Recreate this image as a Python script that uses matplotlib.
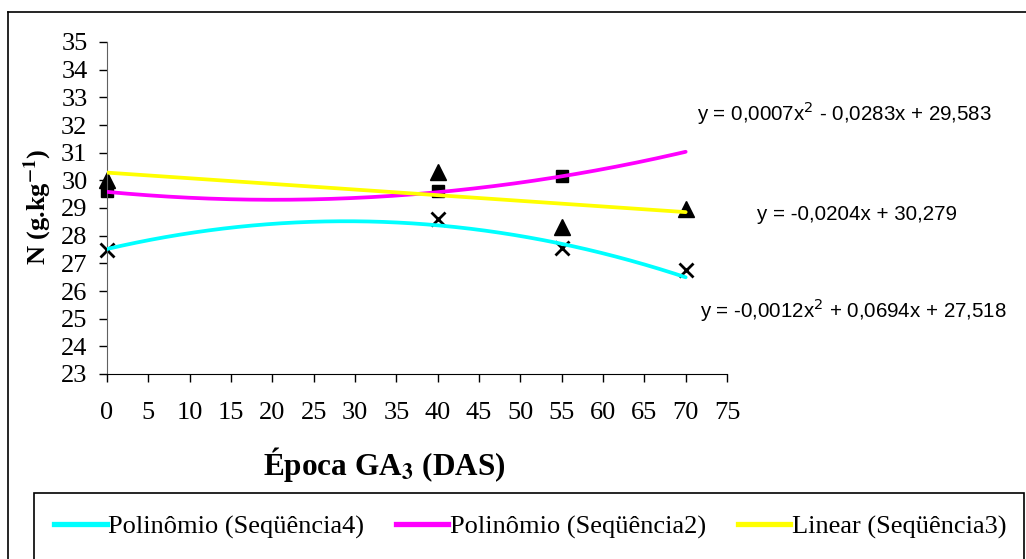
import numpy as np
import matplotlib
matplotlib.use("Agg")
import matplotlib.pyplot as plt
from matplotlib.lines import Line2D
from matplotlib.patches import Rectangle

# sampling days (DAS) and nitrogen content per sequence
days = [0, 40, 55, 70]
seq2_days = [0, 40, 55]
seq2_n = [29.6, 29.6, 30.15]
seq3_n = [30.0, 30.3, 28.3, 28.95]
seq4_n = [27.5, 28.6, 27.55, 26.75]

# trend line coefficients (highest power first)
coef_seq4 = [-0.0012, 0.0694, 27.518]
coef_seq2 = [0.0007, -0.0283, 29.583]
coef_seq3 = [-0.0204, 30.279]

eq_seq2 = "y = 0,0007x$^2$ - 0,0283x + 29,583"
eq_seq3 = "y = -0,0204x + 30,279"
eq_seq4 = "y = -0,0012x$^2$ + 0,0694x + 27,518"

legend_labels = ["Polinômio (Seqüência4)", "Polinômio (Seqüência2)", "Linear (Seqüência3)"]

plt.rcParams['font.family'] = 'Liberation Serif'

W, H = 1026, 559
fig = plt.figure(figsize=(W / 100, H / 100), dpi=100)
ax = fig.add_axes([107 / W, 1 - 374 / H, 620 / W, 332 / H])

# data markers (under the trend lines)
ax.plot(seq2_days, seq2_n, 's', color='black', ms=9, zorder=2, clip_on=False)
ax.plot(days, seq3_n, '^', color='black', ms=11, zorder=2, clip_on=False)
ax.plot(days, seq4_n, 'x', color='black', ms=10, mew=2, zorder=2, clip_on=False)

xs = np.linspace(0, 70, 200)
ax.plot(xs, np.polyval(coef_seq4, xs), color='#00FFFF', lw=2.7, zorder=3, solid_capstyle='round')
ax.plot(xs, np.polyval(coef_seq2, xs), color='#FF00FF', lw=2.7, zorder=3, solid_capstyle='round')
ax.plot(xs, np.polyval(coef_seq3, xs), color='#FFFF00', lw=2.7, zorder=4, solid_capstyle='round')

ax.set_xlim(0, 75)
ax.set_ylim(23, 35)
ax.set_xticks(np.arange(0, 76, 5))
ax.set_yticks(np.arange(23, 36, 1))
for s in ['top', 'right']:
    ax.spines[s].set_visible(False)
ax.spines['left'].set_color('#606060')
ax.spines['bottom'].set_color('black')
ax.tick_params(axis='both', direction='out', length=6, width=1, color='black', labelsize=19)
ax.tick_params(axis='x', pad=14)
ax.tick_params(axis='y', pad=8)

fig.text(384 / W, 1 - 465 / H, r"Época GA$_{\mathbf{3}}$ (DAS)", ha='center', va='center',
         fontsize=22.5, fontweight='bold', math_fontfamily='stix')
fig.text(38 / W, 1 - 207 / H, r"N (g.kg$^{\mathbf{-1}}$)", ha='center', va='center',
         rotation=90, fontsize=19, fontweight='bold', math_fontfamily='stix')

# regression equations
eq_kw = dict(fontsize=14.8, family='Liberation Sans', ha='center', va='center',
             math_fontfamily='dejavusans')
fig.text(844 / W, 1 - 113 / H, eq_seq2, **eq_kw)
fig.text(857 / W, 1 - 215 / H, eq_seq3, **eq_kw)
fig.text(853 / W, 1 - 310 / H, eq_seq4, **eq_kw)

# chart frame and legend box
fig.add_artist(Line2D([8 / W, 8 / W], [0, 1 - 12 / H], color='black', lw=1.2, transform=fig.transFigure))
fig.add_artist(Line2D([8 / W, 1], [1 - 12 / H, 1 - 12 / H], color='black', lw=1.2, transform=fig.transFigure))
fig.add_artist(Rectangle((34 / W, -0.05), (1024 - 34) / W, 0.05 + 1 - 493 / H, fill=False,
                         edgecolor='black', lw=1.2, transform=fig.transFigure))

handles = [Line2D([], [], color=c, lw=3.8) for c in ['#00FFFF', '#FF00FF', '#FFFF00']]
fig.legend(handles, legend_labels, loc='center', bbox_to_anchor=(530 / W, 1 - 527 / H),
           ncol=3, frameon=False, fontsize=19, handlelength=2.0, handletextpad=0.05,
           columnspacing=1.2)

fig.savefig('out.png', dpi=100)
